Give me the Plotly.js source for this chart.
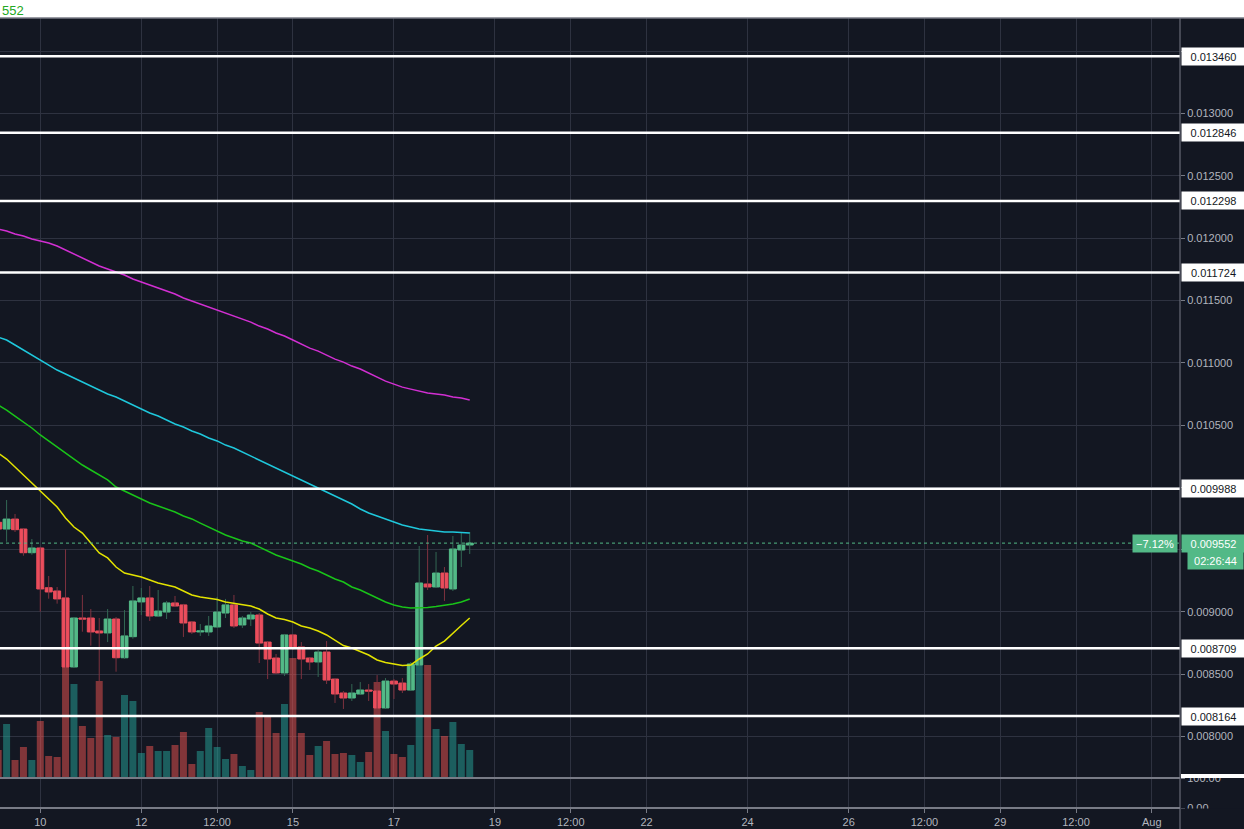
<!DOCTYPE html>
<html>
<head>
<meta charset="utf-8">
<script src="https://cdn.plot.ly/plotly-3.0.1.min.js"></script>
<style>
html,body{margin:0;padding:0;background:#131722;overflow:hidden;}
#chart{width:1244px;height:829px;}
</style>
</head>
<body>
<div id="chart"></div>
<script>
// ---- data (4h candles) ----
const startTime = '2019-07-09T04:00:00Z';
const candleHours = 4;
const opens = [0.009719,0.009665,0.009745,0.009665,0.009475,0.009513,0.009194,0.009168,0.009112,0.008558,0.008951,0.008951,0.008847,0.008831,0.008943,0.008632,0.008801,0.009080,0.009112,0.008967,0.008999,0.009072,0.009056,0.008919,0.008839,0.008839,0.008879,0.008991,0.009056,0.008895,0.008943,0.008975,0.008758,0.008630,0.008510,0.008815,0.008718,0.008630,0.008598,0.008678,0.008461,0.008349,0.008309,0.008341,0.008373,0.008365,0.008229,0.008445,0.008429,0.008373,0.008574,0.009224,0.009200,0.009312,0.009184,0.009497,0.009537];
const highs = [0.009737,0.009898,0.009786,0.009673,0.009585,0.009523,0.009288,0.009200,0.009502,0.008959,0.009136,0.009023,0.008951,0.009023,0.008959,0.009015,0.009208,0.009192,0.009208,0.009176,0.009088,0.009128,0.009064,0.008927,0.008903,0.008967,0.009120,0.009104,0.009136,0.008967,0.008999,0.008991,0.008766,0.008662,0.008823,0.008823,0.008758,0.008638,0.008694,0.008766,0.008464,0.008365,0.008421,0.008437,0.008421,0.008493,0.008469,0.008461,0.008469,0.008598,0.009529,0.009617,0.009481,0.009360,0.009609,0.009633,0.009641];
const lows = [0.009649,0.009563,0.009641,0.009451,0.009459,0.009002,0.009106,0.009066,0.008550,0.008550,0.008841,0.008729,0.008445,0.008758,0.008520,0.008624,0.008785,0.008975,0.008927,0.008959,0.008943,0.009039,0.008799,0.008823,0.008807,0.008807,0.008871,0.008951,0.008871,0.008871,0.008887,0.008590,0.008461,0.008502,0.008486,0.008694,0.008461,0.008534,0.008478,0.008421,0.008269,0.008221,0.008285,0.008333,0.008285,0.008149,0.008221,0.008301,0.008349,0.008365,0.008566,0.009176,0.009192,0.009088,0.009168,0.009360,0.009465];
const closes = [0.009665,0.009745,0.009660,0.009475,0.009513,0.009184,0.009160,0.009104,0.008558,0.008951,0.008943,0.008839,0.008831,0.008943,0.008632,0.008807,0.009088,0.009112,0.008967,0.009007,0.009072,0.009047,0.008911,0.008839,0.008847,0.008887,0.008999,0.009056,0.008887,0.008951,0.008975,0.008750,0.008622,0.008510,0.008815,0.008710,0.008622,0.008598,0.008678,0.008453,0.008341,0.008309,0.008349,0.008373,0.008365,0.008229,0.008445,0.008421,0.008373,0.008582,0.009232,0.009200,0.009312,0.009192,0.009505,0.009537,0.009552];
const volumes = [28,54,18,31,18,57,22,21,151,94,52,40,97,43,41,83,77,25,32,27,27,33,46,14,27,50,31,19,24,12,8,66,61,45,74,120,45,23,32,37,24,25,23,16,26,96,47,24,21,33,143,113,49,42,56,34,28];
const maMagenta = [0.012073,0.012057,0.012033,0.012017,0.011993,0.011977,0.011961,0.011937,0.011904,0.011872,0.011840,0.011808,0.011776,0.011752,0.011728,0.011704,0.011672,0.011647,0.011623,0.011599,0.011575,0.011551,0.011519,0.011495,0.011471,0.011447,0.011423,0.011399,0.011374,0.011350,0.011326,0.011294,0.011270,0.011238,0.011214,0.011182,0.011150,0.011117,0.011093,0.011061,0.011029,0.011005,0.010973,0.010949,0.010917,0.010885,0.010852,0.010828,0.010804,0.010788,0.010772,0.010756,0.010748,0.010740,0.010724,0.010716,0.010700];
const maCyan = [0.011206,0.011182,0.011142,0.011102,0.011062,0.011022,0.010982,0.010941,0.010909,0.010877,0.010845,0.010813,0.010781,0.010749,0.010725,0.010693,0.010660,0.010628,0.010596,0.010572,0.010540,0.010508,0.010484,0.010452,0.010428,0.010396,0.010372,0.010339,0.010315,0.010283,0.010251,0.010219,0.010187,0.010155,0.010123,0.010091,0.010059,0.010026,0.009994,0.009962,0.009930,0.009898,0.009866,0.009826,0.009794,0.009770,0.009746,0.009721,0.009697,0.009681,0.009665,0.009657,0.009649,0.009641,0.009641,0.009637,0.009633];
const maGreen = [0.010660,0.010620,0.010572,0.010524,0.010476,0.010420,0.010372,0.010323,0.010275,0.010227,0.010179,0.010139,0.010099,0.010059,0.010002,0.009970,0.009938,0.009906,0.009874,0.009850,0.009826,0.009802,0.009770,0.009746,0.009713,0.009681,0.009649,0.009617,0.009593,0.009569,0.009553,0.009521,0.009489,0.009457,0.009433,0.009408,0.009384,0.009352,0.009328,0.009296,0.009264,0.009240,0.009200,0.009176,0.009144,0.009112,0.009079,0.009055,0.009039,0.009031,0.009031,0.009035,0.009043,0.009051,0.009063,0.009079,0.009103];
const maYellow = [0.010275,0.010227,0.010163,0.010099,0.010034,0.009978,0.009914,0.009842,0.009754,0.009681,0.009633,0.009553,0.009473,0.009433,0.009360,0.009312,0.009296,0.009280,0.009256,0.009232,0.009216,0.009200,0.009168,0.009136,0.009120,0.009112,0.009099,0.009079,0.009067,0.009059,0.009047,0.009023,0.008983,0.008951,0.008939,0.008919,0.008887,0.008871,0.008847,0.008815,0.008774,0.008730,0.008710,0.008682,0.008654,0.008614,0.008594,0.008582,0.008570,0.008574,0.008622,0.008662,0.008726,0.008766,0.008831,0.008891,0.008951];
const levels = [0.013460,0.012846,0.012298,0.011724,0.009988,0.008709,0.008164];
const lastPrice = 0.009552;
const changeText = '\u22127.12%';
const countdownText = '02:26:44';
const priceTicks = [0.0080,0.0085,0.0090,0.0095,0.0100,0.0105,0.0110,0.0115,0.0120,0.0125,0.0130,0.0135];
const priceTickText = ['0.008000','0.008500','0.009000','','','0.010500','0.011000','0.011500','0.012000','0.012500','0.013000',''];
const timeTicks = ['2019-07-10','2019-07-12','2019-07-13 12:00','2019-07-15','2019-07-17','2019-07-19','2019-07-20 12:00','2019-07-22','2019-07-24','2019-07-26','2019-07-27 12:00','2019-07-29','2019-07-30 12:00','2019-08-01'];
const timeTickText = ['10','12','12:00','15','17','19','12:00','22','24','26','12:00','29','12:00','Aug'];
const lowerPaneTicks = [0,100];
const lowerPaneTickText = ['0.00','100.00'];

// ---- build ----
function fmt(d){const p=n=>String(n).padStart(2,'0');return d.getUTCFullYear()+'-'+p(d.getUTCMonth()+1)+'-'+p(d.getUTCDate())+' '+p(d.getUTCHours())+':'+p(d.getUTCMinutes());}
const t0 = new Date(startTime).getTime();
const times = opens.map((_,i)=>fmt(new Date(t0 + i*candleHours*3600000)));

const UP='#53b987', DOWN='#eb4d5c', UPW='#336854', DOWNW='#7f323f';
const GRID='#2e3240', AX='#787b86', TXT='#b2b5be', FONT='"Liberation Sans", Arial, sans-serif';

const upIdx=[],dnIdx=[];
closes.forEach((c,i)=>{ (c>=opens[i]?upIdx:dnIdx).push(i); });
function wick(idx){const x=[],y=[];idx.forEach(i=>{x.push(times[i],times[i],null);y.push(lows[i],highs[i],null);});return {x,y};}
const wu=wick(upIdx), wd=wick(dnIdx);

const barW = candleHours*3600000*0.83;
const traces = [
 {type:'bar', x:times, y:volumes, yaxis:'y', xaxis:'x', width:barW,
  marker:{color:closes.map((c,i)=>c>=opens[i]?'rgba(38,166,154,0.5)':'rgba(239,83,80,0.5)'), line:{width:0}}, hoverinfo:'skip'},
 {type:'scatter', mode:'lines', x:wu.x, y:wu.y, yaxis:'y2', line:{color:UPW,width:1}, hoverinfo:'skip'},
 {type:'scatter', mode:'lines', x:wd.x, y:wd.y, yaxis:'y2', line:{color:DOWNW,width:1}, hoverinfo:'skip'},
 {type:'candlestick', x:times, open:opens, close:closes,
  high:opens.map((o,i)=>Math.max(o,closes[i])), low:opens.map((o,i)=>Math.min(o,closes[i])),
  yaxis:'y2', whiskerwidth:0,
  increasing:{fillcolor:UP, line:{color:UP,width:1}},
  decreasing:{fillcolor:DOWN, line:{color:DOWN,width:1}}, hoverinfo:'skip'},
 {type:'scatter', mode:'lines', x:times, y:maMagenta, yaxis:'y2', line:{color:'#d22fd2',width:1.5}, hoverinfo:'skip'},
 {type:'scatter', mode:'lines', x:times, y:maCyan, yaxis:'y2', line:{color:'#1fc8dc',width:1.5}, hoverinfo:'skip'},
 {type:'scatter', mode:'lines', x:times, y:maGreen, yaxis:'y2', line:{color:'#19c419',width:1.5}, hoverinfo:'skip'},
 {type:'scatter', mode:'lines', x:times, y:maYellow, yaxis:'y2', line:{color:'#e3e300',width:1.5}, hoverinfo:'skip'},
 // empty lower pane (keeps its subplot alive)
 {type:'scatter', mode:'markers', x:[times[0]], y:[50], xaxis:'x', yaxis:'y3', marker:{opacity:0,size:1}, hoverinfo:'skip'}
];

const PH=790, PW=1180;
const py = px => (808-px)/PH;   // paper y from pixel
const pxX = px => px/PW;        // paper x from pixel

const shapes = [];
shapes.push({type:'rect',xref:'paper',yref:'paper',x0:-0.01,x1:1244/PW,y0:1,y1:py(0),fillcolor:'#ffffff',line:{width:0},layer:'above'});
shapes.push({type:'line',xref:'paper',yref:'paper',x0:0,x1:1244/PW,y0:1,y1:1,line:{color:AX,width:1.5},layer:'above'});
levels.forEach(v=>shapes.push({type:'line',xref:'paper',yref:'y2',x0:0,x1:1,y0:v,y1:v,line:{color:'#ffffff',width:2.5},layer:'above'}));
shapes.push({type:'line',xref:'paper',yref:'y2',x0:0,x1:1,y0:lastPrice,y1:lastPrice,line:{color:UP,width:1,dash:'dot'},layer:'above'});
shapes.push({type:'line',xref:'paper',yref:'paper',x0:0,x1:1,y0:py(778),y1:py(778),line:{color:AX,width:2},layer:'above'});
shapes.push({type:'line',xref:'paper',yref:'paper',x0:0,x1:1,y0:0,y1:0,line:{color:AX,width:2},layer:'above'});
shapes.push({type:'rect',xref:'paper',yref:'paper',x0:pxX(1181),x1:1244/PW,y0:py(774),y1:py(769),fillcolor:'#131722',line:{width:0},layer:'above'});
shapes.push({type:'rect',xref:'paper',yref:'paper',x0:pxX(1181),x1:1244/PW,y0:py(778),y1:py(774),fillcolor:'#ffffff',line:{width:0},layer:'above'});
shapes.push({type:'rect',xref:'paper',yref:'paper',x0:pxX(1181),x1:1244/PW,y0:py(816),y1:py(808.5),fillcolor:'#131722',line:{width:0},layer:'above'});
shapes.push({type:'line',xref:'paper',yref:'paper',x0:1,x1:1,y0:py(829),y1:1,line:{color:AX,width:1},layer:'above'});

const annotations = [];
levels.forEach(v=>annotations.push({xref:'paper',yref:'y2',x:1,y:v,xanchor:'left',yanchor:'middle',xshift:1,
  text:v.toFixed(6),showarrow:false,bgcolor:'#ffffff',width:61,height:15,borderpad:1,align:'center',
  font:{family:FONT,size:11,color:'#131722'}}));
annotations.push({xref:'paper',yref:'y2',x:1,y:lastPrice,xanchor:'left',yanchor:'middle',xshift:7,yshift:-17,
  text:countdownText,showarrow:false,bgcolor:UP,width:53,height:15,borderpad:1,
  font:{family:FONT,size:11,color:'#ffffff'}});
annotations.push({xref:'paper',yref:'y2',x:1,y:lastPrice,xanchor:'left',yanchor:'middle',xshift:1,
  text:lastPrice.toFixed(6),showarrow:false,bgcolor:UP,width:61,height:15,borderpad:1,
  font:{family:FONT,size:11,color:'#ffffff'}});
annotations.push({xref:'paper',yref:'y2',x:1,y:lastPrice,xanchor:'right',yanchor:'middle',xshift:-2,
  text:changeText,showarrow:false,bgcolor:UP,width:42,height:15,borderpad:1,
  font:{family:FONT,size:11,color:'#ffffff'}});
annotations.push({xref:'paper',yref:'paper',x:0,y:py(0),xanchor:'left',yanchor:'top',yshift:-1,
  text:'552',showarrow:false,font:{family:FONT,size:13,color:'#22a822'}});

const layout = {
  width:1244, height:829,
  margin:{l:0,r:64,t:18,b:21,pad:0,autoexpand:false},
  paper_bgcolor:'#131722', plot_bgcolor:'#131722',
  showlegend:false, hovermode:false,
  boxgap:0.17, boxgroupgap:0, bargap:0.17,
  xaxis:{type:'date', anchor:'y3', range:['2019-07-09 04:52','2019-08-01 13:24'],
    tickmode:'array', tickvals:timeTicks, ticktext:timeTickText, automargin:false,
    ticks:'outside', ticklen:4, tickcolor:AX, tickwidth:1,
    showgrid:true, gridcolor:GRID, gridwidth:1, zeroline:false, showline:false,
    tickfont:{family:FONT,size:11,color:TXT}, rangeslider:{visible:false}, fixedrange:true},
  yaxis:{domain:[py(778),1], anchor:'x', range:[0,760], visible:false, showgrid:false, zeroline:false, fixedrange:true},
  yaxis2:{overlaying:'y', anchor:'x', side:'right', range:[0.0076669,0.0137665],
    tickmode:'array', tickvals:priceTicks, ticktext:priceTickText, automargin:false,
    ticks:'outside', ticklen:4, tickcolor:AX, showgrid:true, gridcolor:GRID, gridwidth:1,
    zeroline:false, showline:false, tickfont:{family:FONT,size:11,color:TXT}, fixedrange:true},
  yaxis3:{domain:[0,py(778)], anchor:'x', side:'right', range:[0,100],
    tickmode:'array', tickvals:lowerPaneTicks, ticktext:lowerPaneTickText, automargin:false,
    ticks:'outside', ticklen:4, tickcolor:AX, showgrid:false, zeroline:false, showline:false,
    tickfont:{family:FONT,size:11,color:TXT}, fixedrange:true},
  shapes, annotations
};

Plotly.newPlot('chart', traces, layout, {staticPlot:true, displayModeBar:false});
</script>
</body>
</html>
